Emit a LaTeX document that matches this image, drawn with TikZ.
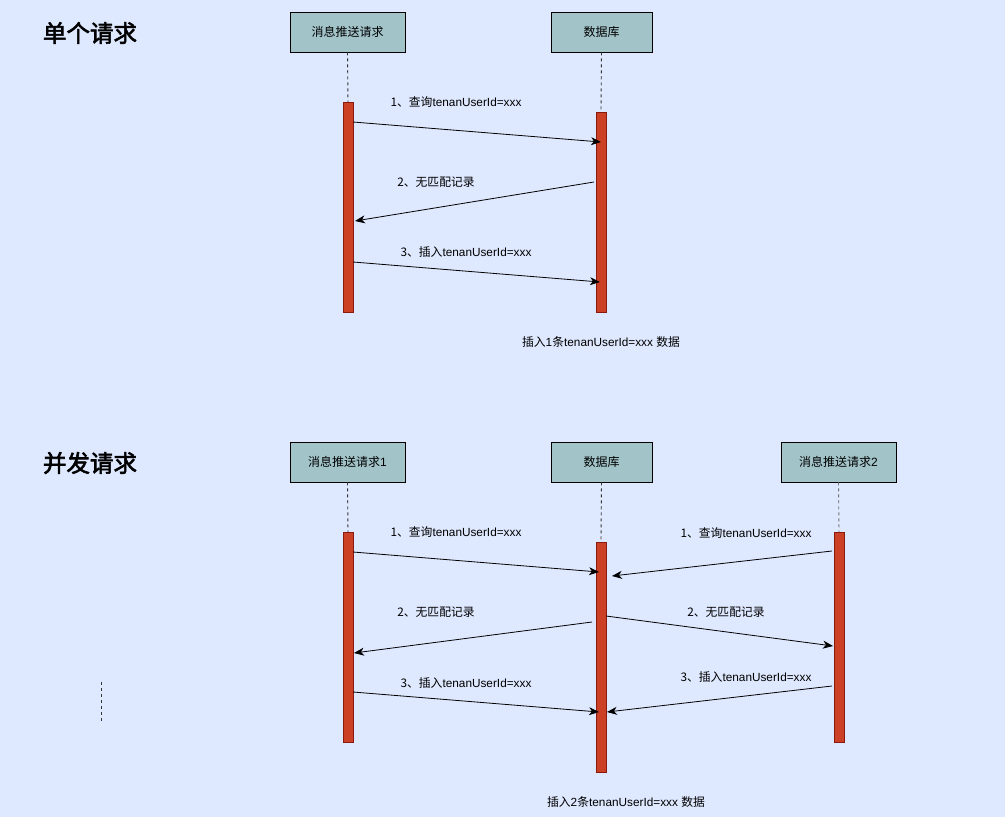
\documentclass[tikz,border=0pt]{standalone}
\usepackage{fontspec}
\setmainfont{Liberation Sans}
\newfontfamily\cjk{Noto Sans CJK SC}[AutoFakeBold=2.5]
\usetikzlibrary{arrows.meta}
\definecolor{bgc}{HTML}{DEE8FE}
\definecolor{boxc}{HTML}{A2C4C9}
\definecolor{barc}{HTML}{CC4125}
\definecolor{barline}{HTML}{8B1A0E}
\tikzset{
  actor/.style={draw=black, fill=boxc, line width=0.9pt, minimum height=40pt, inner sep=0pt, font=\fontsize{12}{14}\selectfont},
  actbar/.style={draw=barline, fill=barc, line width=0.8pt},
  life/.style={dashed, dash pattern=on 3pt off 3pt, line width=0.9pt, draw=black!80},
  msg/.style={line width=0.8pt, -{Stealth[length=10pt,width=8pt,inset=3pt]}},
  lbl/.style={font=\fontsize{11.8}{13}\selectfont, inner sep=0pt},
  ttl/.style={font=\fontsize{23.5}{26}\selectfont\bfseries, inner sep=0pt}
}
\begin{document}
\begin{tikzpicture}[x=1pt,y=-1pt]
\fill[bgc] (0,0) rectangle (1005,817);
\useasboundingbox (0,0) rectangle (1005,817);

% ===== top: single request =====
\node[ttl] (t1) at (90,33) {\cjk 单个请求};
\node[actor, minimum width=115pt] (a1) at (347.5,32) {\cjk 消息推送请求};
\node[actor, minimum width=101pt] (d1) at (601.5,32) {\cjk 数据库};
\node[actbar, minimum width=10pt, minimum height=210pt, inner sep=0pt, anchor=north] (b1) at (348,102) {};
\node[actbar, minimum width=10pt, minimum height=200pt, inner sep=0pt, anchor=north] (bd1) at (601,112) {};
\draw[life] (a1.south) -- (b1.north);
\draw[life] (d1.south) -- (bd1.north);

\coordinate (s1a) at (353,122); \coordinate (e1a) at (601,142);
\coordinate (s1b) at (594,182); \coordinate (e1b) at (355,221);
\coordinate (s1c) at (353,262); \coordinate (e1c) at (600,282);
\draw[msg] (s1a) -- (e1a);
\draw[msg] (s1b) -- (e1b);
\draw[msg] (s1c) -- (e1c);
\node[lbl] (l1a) at (456,102) {{\cjk 1、查询}tenanUserId=xxx};
\node[lbl] (l1b) at (436,182) {{\cjk 2、无匹配记录}};
\node[lbl] (l1c) at (466,252) {{\cjk 3、插入}tenanUserId=xxx};
\node[lbl] (n1) at (601,342) {{\cjk 插入}1{\cjk 条}tenanUserId=xxx {\cjk 数据}};

% ===== bottom: concurrent requests =====
\node[ttl] (t2) at (90,463) {\cjk 并发请求};
\node[actor, minimum width=115pt] (a2) at (347.5,462) {{\cjk 消息推送请求}1};
\node[actor, minimum width=101pt] (d2) at (601.5,462) {\cjk 数据库};
\node[actor, minimum width=115pt] (c2) at (838.5,462) {{\cjk 消息推送请求}2};
\node[actbar, minimum width=10pt, minimum height=210pt, inner sep=0pt, anchor=north] (b2) at (348,532) {};
\node[actbar, minimum width=10pt, minimum height=230pt, inner sep=0pt, anchor=north] (bd2) at (601,542) {};
\node[actbar, minimum width=10pt, minimum height=210pt, inner sep=0pt, anchor=north] (bc2) at (839,532) {};
\draw[life] (a2.south) -- (b2.north);
\draw[life] (d2.south) -- (bd2.north);
\draw[life, draw=black!55] (c2.south) -- (bc2.north);

\coordinate (s2a) at (353,552); \coordinate (e2a) at (599,572);
\coordinate (s2b) at (832,551); \coordinate (e2b) at (612,576);
\coordinate (s2c) at (592,622); \coordinate (e2c) at (354,653);
\coordinate (s2d) at (606,616); \coordinate (e2d) at (833,646);
\coordinate (s2e) at (353,692); \coordinate (e2e) at (599,712);
\coordinate (s2f) at (832,686); \coordinate (e2f) at (607,712);
\draw[msg] (s2a) -- (e2a);
\draw[msg] (s2b) -- (e2b);
\draw[msg] (s2c) -- (e2c);
\draw[msg] (s2d) -- (e2d);
\draw[msg] (s2e) -- (e2e);
\draw[msg] (s2f) -- (e2f);
\node[lbl] (l2a) at (456,532) {{\cjk 1、查询}tenanUserId=xxx};
\node[lbl] (l2b) at (746,533) {{\cjk 1、查询}tenanUserId=xxx};
\node[lbl] (l2c) at (436,612) {{\cjk 2、无匹配记录}};
\node[lbl] (l2d) at (726,612) {{\cjk 2、无匹配记录}};
\node[lbl] (l2e) at (466,683) {{\cjk 3、插入}tenanUserId=xxx};
\node[lbl] (l2f) at (746,677) {{\cjk 3、插入}tenanUserId=xxx};
\node[lbl] (n2) at (626,802) {{\cjk 插入}2{\cjk 条}tenanUserId=xxx {\cjk 数据}};

\coordinate (dl1) at (101,682); \coordinate (dl2) at (101,722);
\draw[life, line width=1pt] (dl1) -- (dl2);
\end{tikzpicture}
\end{document}
